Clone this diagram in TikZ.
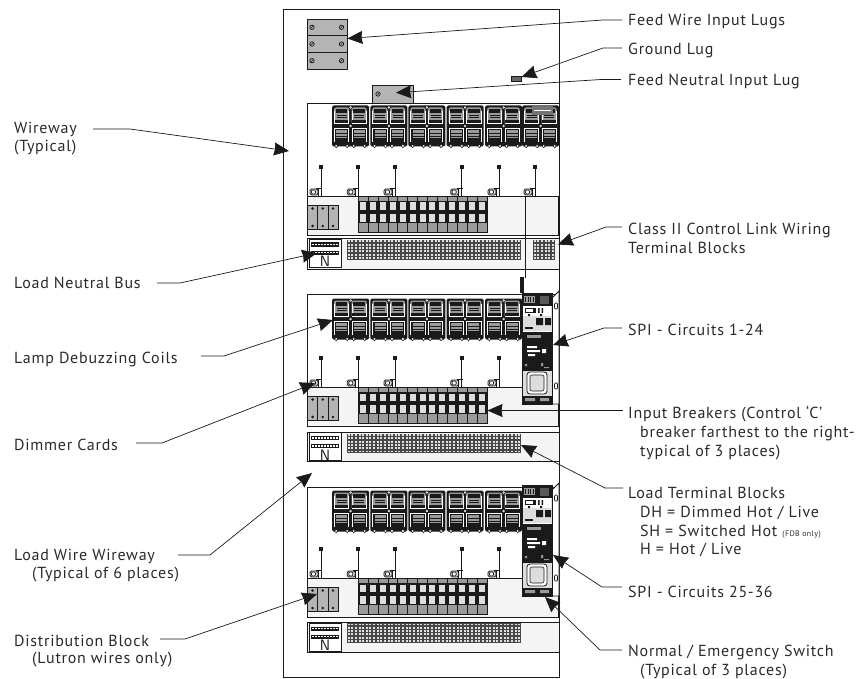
\documentclass[tikz,border=0pt]{standalone}
\usepackage{fontspec}
\setmainfont{PT Sans}[LetterSpace=4.7]
\usetikzlibrary{arrows.meta}
\definecolor{ink}{HTML}{1A1A1A}
\definecolor{txt}{HTML}{2A2A2A}
\definecolor{lugg}{HTML}{B4B4B4}
\definecolor{pale}{HTML}{F4F4F4}
\definecolor{win}{HTML}{DDDDDD}
\definecolor{midg}{HTML}{9A9A9A}
\newcommand{\screw}[2]{\draw[ink,fill=lugg,line width=.7pt] (#1,#2) circle (2.2pt);\draw[ink,line width=.6pt] ({#1-1.5},{#2+1.5}) -- ({#1+1.5},{#2-1.5});}
\newcommand{\coilmod}[2]{%
 \fill[ink,rounded corners=1.5pt] ({#1},{#2+.5}) rectangle ({#1+37},{#2+41.5});
 \foreach \i in {0,1}{
  \pgfmathsetmacro\ux{#1+1.2+\i*17.5}
  \fill[midg,rounded corners=2pt] ({\ux+.8},{#2+2.5}) rectangle ({\ux+16},{#2+19});
  \fill[ink] ({\ux+2.5},{#2+4}) rectangle ({\ux+14.2},{#2+8});
  \draw[ink,line width=.6pt] ({\ux+3.5},{#2+10}) -- ({\ux+13.5},{#2+10}) ({\ux+3.5},{#2+12.5}) -- ({\ux+13.5},{#2+12.5});
  \draw[white,line width=.8pt] ({\ux+1.2},{#2+6}) -- ({\ux+1.2},{#2+18.5}) -- ({\ux+15.6},{#2+18.5}) -- ({\ux+15.6},{#2+6});
  \fill[ink] ({\ux+1.6},{#2+15}) rectangle ({\ux+15.2},{#2+18});
  \draw[white,line width=.8pt] ({\ux+1.2},{#2+37}) -- ({\ux+1.2},{#2+23}) -- ({\ux+15.6},{#2+23}) -- ({\ux+15.6},{#2+37});
  \fill[midg] ({\ux+3},{#2+25}) rectangle ({\ux+14},{#2+33});
  \draw[ink,line width=.7pt] ({\ux+3},{#2+28}) -- ({\ux+14},{#2+28}) ({\ux+3},{#2+31}) -- ({\ux+14},{#2+31});
  \fill[ink] ({\ux+3},{#2+33.5}) rectangle ({\ux+14},{#2+38});
  \draw[ink,fill=white,line width=.6pt] ({\ux+3},{#2+41}) circle (1.7pt) ({\ux+14},{#2+41}) circle (1.7pt);
 }
 \draw[white,line width=.5pt] ({#1+18.5},{#2+21}) circle (.9pt);
 \draw[white,line width=.5pt] ({#1+18.5},{#2+2.5}) circle (.9pt);
}
\newcommand{\cardwire}[2]{%
 \fill[ink] ({#1-2.1},{#2-31}) rectangle ({#1+2.1},{#2-27});
 \draw[ink,line width=1.1pt] ({#1+.2},{#2-28}) -- ({#1+.2},{#2});
 \draw[ink,fill=win,line width=.8pt,rounded corners=1.5pt] ({#1-11},{#2-7}) rectangle ({#1-3},{#2-1});
 \draw[ink,fill=white,line width=.7pt] ({#1-7.5},{#2-4}) circle (2.2pt);
 \draw[ink,line width=.9pt] ({#1-3},{#2-8}) -- ({#1-3},{#2}) ({#1-5},{#2-8}) -- ({#1+1},{#2-8});
}
\newcommand{\breakerset}[1]{%
 \fill[midg] (358,{#1+.5}) rectangle (487,{#1+36});
 \fill[ink] (358,{#1+5}) rectangle (487,{#1+27});
 \foreach \i in {0,...,12}{
  \fill[win] ({358+\i*9.92+2},{#1+6.5}) rectangle ({358+\i*9.92+8},{#1+14});
  \fill[win] ({358+\i*9.92+2},{#1+18}) rectangle ({358+\i*9.92+8},{#1+26});
  \draw[ink,line width=.45pt] ({358+\i*9.92},{#1+.5}) -- ({358+\i*9.92},{#1+36});
 }
 \draw[ink,line width=.8pt] (358,{#1}) rectangle (487,{#1+36});
}
\newcommand{\distblock}[1]{%
 \foreach \i in {0,1,2}{
  \draw[ink,fill=lugg,line width=.6pt] ({307.5+\i*10.2},{#1+9}) rectangle ({317.7+\i*10.2},{#1+33});
  \fill[ink] ({312.6+\i*10.2},{#1+12.5}) circle (1.4pt) ({312.6+\i*10.2},{#1+30}) circle (1.4pt);
 }
}
\newcommand{\termgrid}[4]{% x y cols rows
 \fill[black!72] ({#1},{#2}) rectangle ({#1+#3*3.63},{#2+#4*3.3});
 \foreach \c in {1,...,#3}{\foreach \r in {1,...,#4}{
  \fill[black!12] ({#1+\c*3.63-3},{#2+\r*3.3-2.8}) rectangle ({#1+\c*3.63-1},{#2+\r*3.3-.9});
 }}
}
\newcommand{\nblock}[2]{%
 \node[draw=ink,fill=white,line width=.8pt,minimum width=32pt,minimum height=28pt,inner sep=0pt] (#2) at (325,{#1+14}) {};
 \foreach \r in {3.5,11.5}{
  \fill[ink] (311,{#1+\r}) rectangle (339,{#1+\r+4});
  \foreach \c in {0,...,8}{\fill[white] ({312+\c*3},{#1+\r+1.2}) rectangle ({313.6+\c*3},{#1+\r+2.8});}
 }
 \node[font=\fontsize{15}{15}\selectfont\sffamily,text=ink,inner sep=0pt] at (325,{#1+22.5}) {N};
}
\newcommand{\spimod}[2]{%
 \draw[ink,fill=white,line width=.8pt] (552,{#1+5}) -- (559,{#1-2}) -- (559,{#1+111}) -- (552,{#1+111}) -- cycle;
 \draw[ink,line width=.7pt,fill=white,rounded corners=1pt] (554.5,{#1+10}) rectangle (557.5,{#1+16}) (554.5,{#1+90}) rectangle (557.5,{#1+96});
 \node[draw=ink,fill=win,line width=.8pt,minimum width=30pt,minimum height=111pt,inner sep=0pt] (#2) at (537,{#1+55.5}) {};
 \fill[ink] (522,{#1}) rectangle (552,{#1+13});
 \fill[midg] (523.5,{#1+3}) rectangle (535,{#1+10});
 \foreach \c in {0,...,3}{\fill[ink] ({525+\c*2.6},{#1+4}) rectangle ({526+\c*2.6},{#1+9});}
 \fill[black!65] (540,{#1+3}) rectangle (549,{#1+11});
 \fill[white] (523,{#1+13}) rectangle (551,{#1+39});
 \fill[win] (523,{#1+23}) rectangle (551,{#1+38});
 \fill[ink] (525,{#1+15}) rectangle (536,{#1+20});
 \fill[white] (526,{#1+16}) rectangle (533,{#1+19});
 \fill[ink] (538,{#1+15}) rectangle (539.5,{#1+20}) (541.5,{#1+15}) rectangle (543,{#1+20});
 \fill[ink] (528,{#1+21}) rectangle (530,{#1+23}) (540,{#1+21}) rectangle (542,{#1+23});
 \fill[ink] (536,{#1+25}) rectangle (543,{#1+32}) (545,{#1+25}) rectangle (551,{#1+32});
 \fill[ink] (525,{#1+34}) rectangle (533,{#1+35.5});
 \fill[ink] (522,{#1+39}) rectangle (552,{#1+78});
 \fill[midg] (527,{#1+42}) rectangle (541,{#1+45});
 \fill[white] (527,{#1+53}) rectangle (537,{#1+55}) (527,{#1+57}) rectangle (540,{#1+59}) (528,{#1+61}) rectangle (535,{#1+63}) (542,{#1+56}) rectangle (546,{#1+60});
 \fill[midg] (525,{#1+71}) rectangle (527,{#1+73}) (541,{#1+70}) rectangle (543,{#1+73}) (544,{#1+74}) rectangle (549,{#1+75});
 \draw[ink,line width=.8pt,fill=white,rounded corners=3pt] (527,{#1+79}) rectangle (547,{#1+101});
 \draw[ink,line width=.6pt,fill=win,rounded corners=2pt] (530,{#1+82}) rectangle (544,{#1+98});
 \fill[ink] (522,{#1+103}) rectangle (552,{#1+111});
 \fill[midg] (525,{#1+105}) rectangle (535,{#1+108}) (540,{#1+105}) rectangle (549,{#1+108});
}
\tikzset{
 lbl/.style={anchor=base west,inner sep=0pt,text=txt,font=\fontsize{16}{16}\selectfont},
 ptr/.style={draw=ink,line width=.7pt,-{Stealth[length=15pt,width=13pt,inset=1pt,fill=ink]}},
 lug/.style={draw=ink,fill=lugg,line width=.8pt,inner sep=0pt},
 band/.style={draw=ink,fill=pale,line width=.9pt},
 panel/.style={draw=ink,fill=white,line width=.9pt},
}
\begin{document}
\begin{tikzpicture}[x=1pt,y=-1pt]
\useasboundingbox (0,0) rectangle (862,679);
\node[draw=ink,line width=1pt,minimum width=276pt,minimum height=667pt,inner sep=0pt] (encl) at (421,343.5) {};
% feed lugs
\foreach \r/\n in {0/a,1/b,2/c}{
 \node[lug,minimum width=40pt,minimum height=16.7pt] (lug\n) at (327,{27.3+\r*16.7}) {};
 \screw{312}{27.3+\r*16.7}\screw{341.5}{27.3+\r*16.7}
}
\node[lug,minimum width=41pt,minimum height=18pt] (nlug) at (392.5,94) {};
\screw{378}{94}
\node[draw=ink,fill=black!60,line width=.6pt,minimum width=10pt,minimum height=5pt,inner sep=0pt] (glug) at (516,78.5) {};
% section 1
\draw[panel] (307,103) rectangle (559,235);
\draw[band] (307,196) rectangle (558,235);
\draw[band] (307,238) rectangle (559,269);
% section 2
\draw[panel] (307,294) rectangle (559,426);
\draw[band] (307,387) rectangle (558,426);
\draw[band] (307,432) rectangle (559,461);
% section 3
\draw[panel] (307,487) rectangle (559,617);
\draw[band] (307,578) rectangle (558,617);
\draw[band] (307,622) rectangle (559,652);
\foreach \y in {105,298,490}{
 \foreach \x in {332,370.3,408.4,446.7,485}{\coilmod{\x}{\y}}
}
\coilmod{522}{105}
\fill[black!55] (532,106) rectangle (553,115);
\draw[white,line width=.5pt] (534,110) -- (551,110);
\foreach \x in {321,358.3,395,461.7,499,535}{\cardwire{\x}{196}}
\foreach \x in {321,358.3,395,461.7,499}{\cardwire{\x}{387}\cardwire{\x}{578}}
\breakerset{196}\breakerset{387}\breakerset{578}
\distblock{196}\distblock{387}\distblock{578}
\nblock{239}{na}\nblock{432.5}{nb}\nblock{623}{nc}
\termgrid{347}{240}{48}{6}\termgrid{347}{433.5}{48}{6}\termgrid{347}{623}{48}{6}
\termgrid{533}{240}{6}{6}
% wire down from section 1
\draw[ink,line width=.8pt] (525,196) -- (525,278);
\fill[ink] (520,277) rectangle (524,293);
\spimod{293}{spia}
\spimod{485}{spib}
% labels
\node[lbl] (t1) at (628,26) {Feed Wire Input Lugs};
\node[lbl] (t2) at (628,55) {Ground Lug};
\node[lbl] (t3) at (628,86) {Feed Neutral Input Lug};
\node[lbl] (t4) at (628,234) {Class II Control Link Wiring};
\node[lbl] (t4b) at (628,253) {Terminal Blocks};
\node[lbl] (t5) at (628,335) {SPI - Circuits 1-24};
\node[lbl] (t6) at (628,418) {Input Breakers (Control ‘C’};
\node[lbl] (t6b) at (640,437) {breaker farthest to the right-};
\node[lbl] (t6c) at (640,456) {typical of 3 places)};
\node[lbl] (t7) at (628,498) {Load Terminal Blocks};
\node[lbl] (t7b) at (640,517) {DH = Dimmed Hot / Live};
\node[lbl] (t7c) at (640,536) {SH = Switched Hot {\fontsize{8}{8}\selectfont (FDB only)}};
\node[lbl] (t7d) at (640,554) {H = Hot / Live};
\node[lbl] (t8) at (628,597) {SPI - Circuits 25-36};
\node[lbl] (t9) at (628,656) {Normal / Emergency Switch};
\node[lbl] (t9b) at (640,675) {(Typical of 3 places)};
\node[lbl] (l1) at (14,134) {Wireway};
\node[lbl] (l1b) at (14,152) {(Typical)};
\node[lbl] (l2) at (14,288) {Load Neutral Bus};
\node[lbl] (l3) at (14,363) {Lamp Debuzzing Coils};
\node[lbl] (l4) at (14,450) {Dimmer Cards};
\node[lbl] (l5) at (14,560) {Load Wire Wireway};
\node[lbl] (l5b) at (32,578) {(Typical of 6 places)};
\node[lbl] (l6) at (14,646) {Distribution Block};
\node[lbl] (l6b) at (32,663) {(Lutron wires only)};
% leaders
\coordinate (a1) at (622,20);\coordinate (k1) at (603,20);\coordinate (e1) at (347.5,38.5);
\coordinate (a2) at (622,48);\coordinate (k2) at (603,48);\coordinate (e2) at (521.5,77);
\coordinate (a3) at (621,79.5);\coordinate (k3) at (601,79.5);\coordinate (e3) at (396,92.7);
\coordinate (a4) at (622,227);\coordinate (k4) at (606,227);\coordinate (e4) at (558,244.5);
\coordinate (a5) at (622,328);\coordinate (k5) at (604,328);\coordinate (e5) at (553,345);
\coordinate (a6) at (623,410.5);\coordinate (e6) at (487.5,410.5);
\coordinate (a7) at (623,488);\coordinate (k7) at (605,488);\coordinate (e7) at (521,445);
\coordinate (a8) at (622,587);\coordinate (k8) at (602,587);\coordinate (e8) at (553,555);
\coordinate (a9) at (622,650);\coordinate (k9) at (600,650);\coordinate (e9) at (545,597);
\coordinate (b1) at (93,129);\coordinate (m1) at (130,129);\coordinate (f1) at (289,151);
\coordinate (b2) at (157,283);\coordinate (m2) at (180,283);\coordinate (f2) at (317,253);
\coordinate (b3) at (201,356);\coordinate (m3) at (224,356);\coordinate (f3) at (333,320);
\coordinate (b4) at (136,443);\coordinate (m4) at (162,443);\coordinate (f4) at (315,383);
\coordinate (b5) at (178,555);\coordinate (m5) at (210,555);\coordinate (f5) at (312,473);
\coordinate (b6) at (160,639);\coordinate (m6) at (185,639);\coordinate (f6) at (317,594);
\foreach \s/\k/\e in {a1/k1/e1,a2/k2/e2,a3/k3/e3,a4/k4/e4,a5/k5/e5,a7/k7/e7,a8/k8/e8,a9/k9/e9,b1/m1/f1,b2/m2/f2,b3/m3/f3,b4/m4/f4,b5/m5/f5,b6/m6/f6}{
 \draw[ptr] (\s) -- (\k) -- (\e);
}
\draw[ptr] (a6) -- (e6);
\end{tikzpicture}
\end{document}
